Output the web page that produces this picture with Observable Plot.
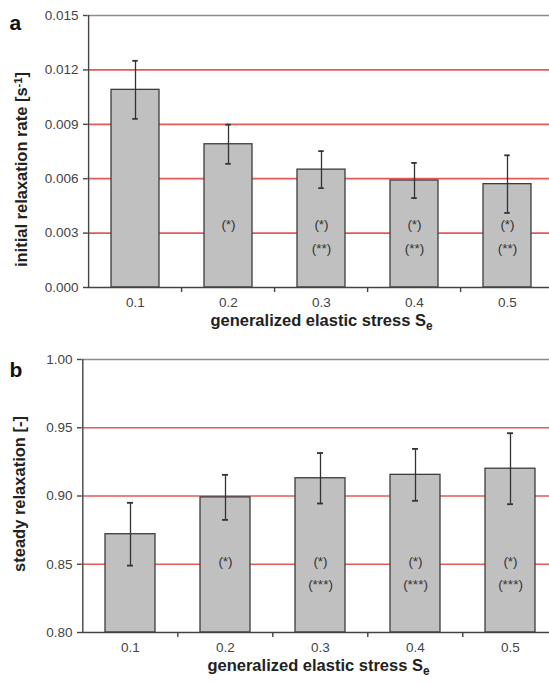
<!DOCTYPE html>
<html>
<head>
<meta charset="utf-8">
<script src="https://cdn.jsdelivr.net/npm/d3@7"></script>
<script src="https://cdn.jsdelivr.net/npm/@observablehq/plot@0.6"></script>
<style>
  html, body { margin: 0; padding: 0; background: #fff; overflow: hidden; }
  #wrap { width: 549px; }
  #wrap svg { display: block; }
</style>
</head>
<body>
<div id="wrap"></div>
<script>
// ---- data ----
const categories = ["0.1", "0.2", "0.3", "0.4", "0.5"];

const rateMean = [0.0109, 0.0079, 0.0065, 0.0059, 0.0057];
const rateErr  = [0.0016, 0.00108, 0.00102, 0.00097, 0.00159];
const rateTicks = [0, 0.003, 0.006, 0.009, 0.012, 0.015];
const rateNote1 = ["", "(*)", "(*)", "(*)", "(*)"];
const rateNote2 = ["", "", "(**)", "(**)", "(**)"];

const steadyMean = [0.872, 0.899, 0.913, 0.9155, 0.920];
const steadyErr  = [0.023, 0.0165, 0.0185, 0.019, 0.026];
const steadyTicks = [0.80, 0.85, 0.90, 0.95, 1.00];
const steadyNote1 = ["", "(*)", "(*)", "(*)", "(*)"];
const steadyNote2 = ["", "", "(***)", "(***)", "(***)"];

const xTitle = "generalized elastic stress Se";
const rateTitle = "initial relaxation rate [s-1]";
const steadyTitle = "steady relaxation [-]";

// ---- drawing ----
const FONT = "'Liberation Sans', Arial, Helvetica, sans-serif";
const RED = "#e35a5a";

function panel(o) {
  const rows = categories.map((c, i) => ({
    cat: c, v: o.mean[i], lo: o.mean[i] - o.err[i], hi: o.mean[i] + o.err[i],
    n1: o.note1[i], n2: o.note2[i]
  }));
  const step = (o.xRange[1] - o.xRange[0]) / categories.length;
  const bw = step * (1 - o.padInner);
  const capInset = (bw - 6) / 2;
  const y0 = o.ticks[0], yTop = o.ticks[o.ticks.length - 1];
  return Plot.plot({
    width: 549,
    height: o.height,
    marginTop: o.marginTop,
    marginBottom: o.marginBottom,
    marginLeft: o.marginLeft,
    marginRight: 0,
    style: { fontFamily: FONT, fontSize: "13.5px", color: "#444", background: "#fff" },
    x: { domain: categories, range: o.xRange, paddingInner: o.padInner, paddingOuter: o.padInner / 2, label: null },
    y: { domain: [y0, yTop], label: null },
    marks: [
      Plot.ruleY(o.ticks.slice(1, -1), { stroke: RED, strokeWidth: 1.7 }),
      Plot.ruleY([yTop], { stroke: "#8c8c8c", strokeWidth: 1.7 }),
      Plot.barY(rows, { x: "cat", y1: () => y0, y2: "v", fill: "#c0c0c0", stroke: "#3c3c3c", strokeWidth: 1.3 }),
      Plot.ruleX(rows, { x: "cat", y1: "lo", y2: "hi", stroke: "#333", strokeWidth: 1.3 }),
      Plot.tickY(rows, { x: "cat", y: "hi", insetLeft: capInset, insetRight: capInset, stroke: "#333", strokeWidth: 1.8 }),
      Plot.tickY(rows, { x: "cat", y: "lo", insetLeft: capInset, insetRight: capInset, stroke: "#333", strokeWidth: 1.8 }),
      Plot.text(rows, { x: "cat", y: () => o.noteY1, text: "n1", fontSize: 13.5, fill: "#333" }),
      Plot.text(rows, { x: "cat", y: () => o.noteY2, text: "n2", fontSize: 13.5, fill: "#333" }),
      Plot.ruleY([y0], { stroke: "#444", strokeWidth: 1.4 }),
      Plot.ruleX([categories[0]], { x: d => d, dx: -step / 2, stroke: "#444", strokeWidth: 1.4 }),
      Plot.ruleX(categories.slice(1), { x: d => d, y1: () => y0, y2: () => y0, insetBottom: -5, dx: -step / 2, stroke: "#444", strokeWidth: 1.4 }),
      Plot.axisY({ ticks: o.ticks, tickFormat: o.fmt, tickSize: 4, tickPadding: 5, stroke: "#444", strokeWidth: 1.4, fill: "#444", fontSize: 13.5 }),
      Plot.axisX({ tickSize: 0, tickPadding: 10, fill: "#444", fontSize: 13.5 }),
      Plot.text([o.yTitle], { frameAnchor: "left", textAnchor: "middle", lineAnchor: "middle", rotate: -90, dx: o.yTitleDx, dy: o.yTitleDy, fontWeight: "bold", fontSize: 16.5, fill: "#222" }),
      Plot.text([xTitle], { frameAnchor: "bottom", dx: 3, dy: 38.5, fontWeight: "bold", fontSize: 16.5, fill: "#222" }),
      Plot.text([o.letter], { frameAnchor: "top-left", textAnchor: "start", dx: o.letterDx, dy: o.letterDy, fontWeight: "bold", fontSize: 21, fill: "#111" })
    ]
  });
}

const chartA = panel({
  letter: "a", mean: rateMean, err: rateErr, note1: rateNote1, note2: rateNote2,
  ticks: rateTicks, fmt: ".3f", yTitle: rateTitle,
  height: 340, marginTop: 15, marginBottom: 53, marginLeft: 87,
  xRange: [87, 556], padInner: 0.483, noteY1: 0.00344, noteY2: 0.00216,
  yTitleDx: -66, yTitleDy: 18, letterDx: -78, letterDy: 0
});
const chartB = panel({
  letter: "b", mean: steadyMean, err: steadyErr, note1: steadyNote1, note2: steadyNote2,
  ticks: steadyTicks, fmt: ".2f", yTitle: steadyTitle,
  height: 344, marginTop: 19, marginBottom: 52, marginLeft: 81,
  xRange: [81, 558], padInner: 0.476, noteY1: 0.8517, noteY2: 0.8347,
  yTitleDx: -62, yTitleDy: -2, letterDx: -72, letterDy: 3
});

const wrap = document.getElementById("wrap");
wrap.appendChild(chartA);
wrap.appendChild(chartB);

// sub/superscripts in titles
d3.selectAll("#wrap text").each(function () {
  const t = this.textContent;
  if (t === xTitle) {
    d3.select(this).html('generalized elastic stress S<tspan dy="0.3em" font-size="0.72em">e</tspan>');
  } else if (t === rateTitle) {
    d3.select(this).html('initial relaxation rate [s<tspan dy="-0.45em" font-size="0.68em">-1</tspan><tspan dy="0.31em">]</tspan>');
  }
});
</script>
</body>
</html>
